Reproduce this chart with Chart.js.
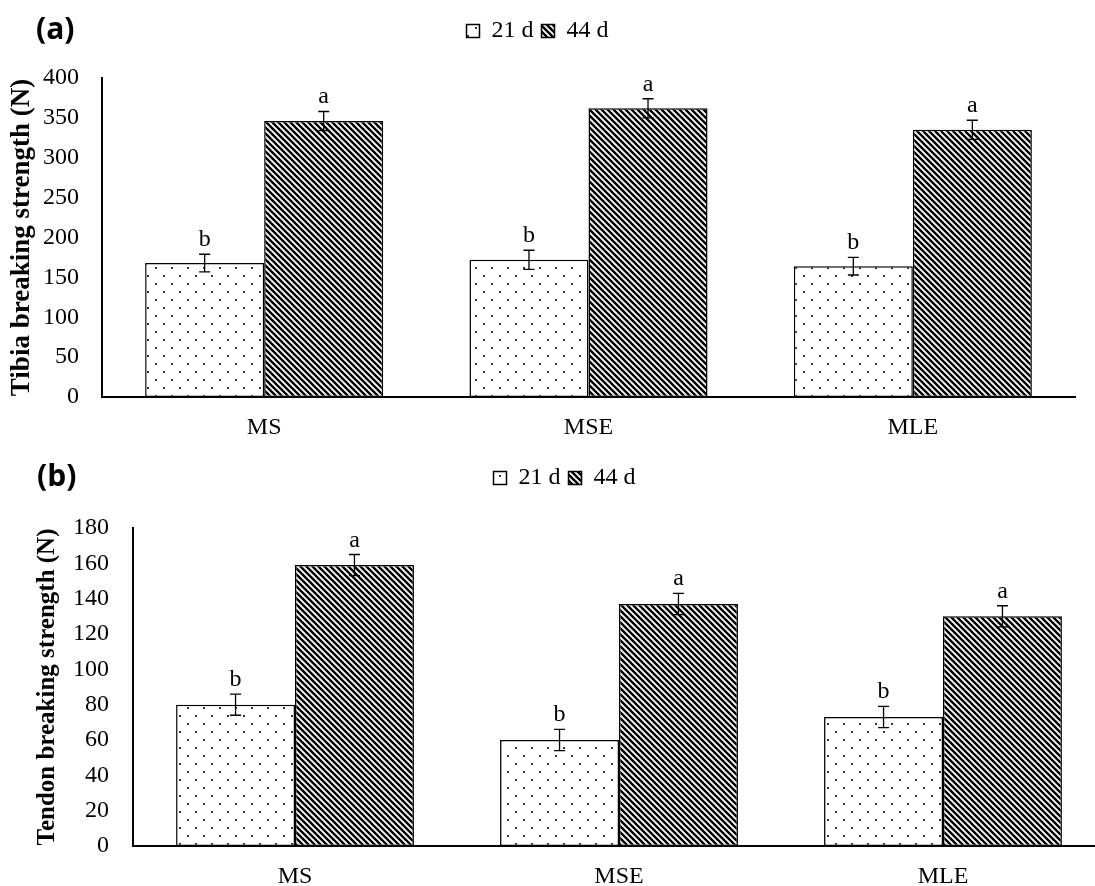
<!DOCTYPE html>
<html>
<head>
<meta charset="utf-8">
<script src="https://cdn.jsdelivr.net/npm/chart.js"></script>
<style>
  html, body { margin: 0; padding: 0; background: #fff; width: 1095px; height: 886px; overflow: hidden; }
  .panel { position: absolute; left: 0; width: 1095px; overflow: hidden; }
  .tag { position: absolute; font-family: "Open Sans", sans-serif; font-weight: 700; font-size: 30px; line-height: 30px; color: #000; }
</style>
</head>
<body>
<div class="panel" style="top:0;height:440px"><canvas id="tibia" width="1095" height="440"></canvas></div>
<div class="panel" style="top:440px;height:446px"><canvas id="tendon" width="1105" height="446"></canvas></div>
<div class="tag" style="left:36px;top:13px">(a)</div>
<div class="tag" style="left:37px;top:460px">(b)</div>
<script>
// datos
const categories = ['MS', 'MSE', 'MLE'];
const seriesNames = ['21 d', '44 d'];

const tibia21 = [168, 172, 164];
const tibia21Err = [11, 12, 11];
const tibia21Letters = ['b', 'b', 'b'];
const tibia44 = [346, 362, 335];
const tibia44Err = [12, 12, 12];
const tibia44Letters = ['a', 'a', 'a'];
const tibiaTicks = [0, 400, 50];   // min, max, paso

const tendon21 = [80, 60, 73];
const tendon21Err = [6, 6, 6];
const tendon21Letters = ['b', 'b', 'b'];
const tendon44 = [159, 137, 130];
const tendon44Err = [6, 6, 6];
const tendon44Letters = ['a', 'a', 'a'];
const tendonTicks = [0, 180, 20];

Chart.defaults.font.family = '"Liberation Serif", "Times New Roman", serif';
Chart.defaults.color = '#000';

// tramas tipo Excel
function dotPattern() {
  const c = document.createElement('canvas');
  c.width = 16; c.height = 16;
  const g = c.getContext('2d');
  g.fillStyle = '#fff'; g.fillRect(0, 0, 16, 16);
  g.fillStyle = '#333';
  g.fillRect(3, 3, 2, 2);
  g.fillRect(11, 11, 2, 2);
  return g.createPattern(c, 'repeat');
}
function hatchPattern() {
  const n = 6;
  const c = document.createElement('canvas');
  c.width = n; c.height = n;
  const g = c.getContext('2d');
  g.fillStyle = '#fff'; g.fillRect(0, 0, n, n);
  g.strokeStyle = '#000'; g.lineWidth = 2.4;
  g.beginPath();
  [-n, 0, n].forEach(k => { g.moveTo(k - 2, -2); g.lineTo(k + n + 2, n + 2); });
  g.stroke();
  return g.createPattern(c, 'repeat');
}

// barras de error y letras
const errorBars = {
  id: 'errorBars',
  afterDatasetsDraw(chart) {
    const ctx = chart.ctx;
    const y = chart.scales.y;
    ctx.save();
    ctx.strokeStyle = '#000';
    ctx.lineWidth = 1.3;
    ctx.fillStyle = '#000';
    ctx.font = '24px "Liberation Serif"';
    ctx.textAlign = 'center';
    ctx.textBaseline = 'alphabetic';
    chart.data.datasets.forEach((ds, i) => {
      chart.getDatasetMeta(i).data.forEach((bar, j) => {
        const top = y.getPixelForValue(ds.data[j] + ds.errors[j]);
        const bot = y.getPixelForValue(ds.data[j] - ds.errors[j]);
        const x = bar.x;
        ctx.beginPath();
        ctx.moveTo(x, top); ctx.lineTo(x, bot);
        ctx.moveTo(x - 5.5, top); ctx.lineTo(x + 5.5, top);
        ctx.moveTo(x - 5.5, bot); ctx.lineTo(x + 5.5, bot);
        ctx.stroke();
        ctx.fillText(ds.letters[j], x, top - 8);
      });
    });
    ctx.restore();
  }
};

function makeChart(id, d21, e21, l21, d44, e44, l44, ticks, title, cfg) {
  const dataset = (label, data, errors, letters, fill) => ({
    label, data, errors, letters,
    backgroundColor: fill,
    borderColor: '#000',
    borderWidth: 1.5,
    borderSkipped: false,
    categoryPercentage: 0.734,
    barPercentage: 1
  });
  return new Chart(document.getElementById(id), {
    type: 'bar',
    data: {
      labels: categories,
      datasets: [
        dataset(seriesNames[0], d21, e21, l21, dotPattern()),
        dataset(seriesNames[1], d44, e44, l44, hatchPattern())
      ]
    },
    options: {
      responsive: false,
      animation: false,
      layout: { padding: cfg.padding },
      plugins: {
        legend: {
          position: 'top',
          labels: { color: '#000', font: { size: 24 }, boxWidth: 13, boxHeight: 13, padding: 8 }
        },
        // hueco vacio entre la leyenda y el area del grafico
        subtitle: {
          display: true, text: '', position: 'top', weight: 500,
          font: { size: 10, lineHeight: 1 },
          padding: { top: cfg.gap, bottom: 0 }
        },
        tooltip: { enabled: false }
      },
      scales: {
        x: {
          grid: { display: false, drawTicks: false },
          border: { display: true, color: '#000', width: 2 },
          ticks: { color: '#000', font: { size: 24 }, padding: 16 },
          afterFit(s) { s.height = cfg.xHeight; }
        },
        y: {
          min: ticks[0], max: ticks[1],
          grid: { display: false, drawTicks: false },
          border: { display: true, color: '#000', width: 2 },
          ticks: { stepSize: ticks[2], color: '#000', font: { size: 24 }, padding: cfg.tickPad },
          title: {
            display: true, text: title, color: '#000',
            font: { size: cfg.titleSize, weight: 'bold', lineHeight: 1.2 },
            padding: { top: cfg.titlePad, bottom: 0 }
          },
          afterFit(s) { s.width = cfg.yWidth; }
        }
      }
    },
    plugins: [errorBars]
  });
}

makeChart('tibia', tibia21, tibia21Err, tibia21Letters, tibia44, tibia44Err, tibia44Letters,
  tibiaTicks, 'Tibia breaking strength (N)',
  { padding: { top: 11, left: 0, right: 20, bottom: 0 }, gap: 15, xHeight: 43, yWidth: 102,
    tickPad: 23, titleSize: 27, titlePad: 6 });

makeChart('tendon', tendon21, tendon21Err, tendon21Letters, tendon44, tendon44Err, tendon44Letters,
  tendonTicks, 'Tendon breaking strength (N)',
  { padding: { top: 18, left: 24, right: 0, bottom: 0 }, gap: 18, xHeight: 40, yWidth: 109,
    tickPad: 24, titleSize: 25, titlePad: 8.5 });
</script>
</body>
</html>
